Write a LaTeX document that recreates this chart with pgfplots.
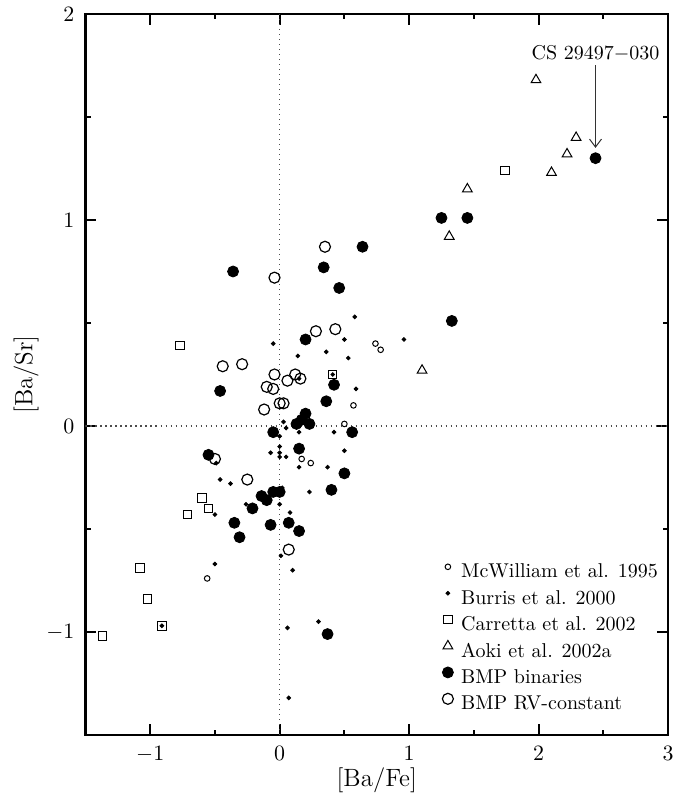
\documentclass[border=0pt]{standalone}
\usepackage{pgfplots}
\pgfplotsset{compat=1.18}
\usetikzlibrary{arrows.meta}
\pgfplotsset{
  mk/.style={only marks, legend image code/.code={\draw[##1] plot coordinates {(0pt,3.3pt)};}},
}
\begin{document}
\begin{tikzpicture}
\useasboundingbox (-42.75pt,-30pt) rectangle (302.25pt,367.5pt);
\begin{axis}[
  at={(0,0)}, anchor=south west,
  scale only axis, width=291.25pt, height=360.5pt,
  xmin=-1.5, xmax=3, ymin=-1.5, ymax=2,
  xtick={-1,0,1,2,3}, ytick={-1,0,1,2},
  minor xtick={-1.5,-0.5,0.5,1.5,2.5}, minor ytick={-1.5,-0.5,0.5,1.5},
  xtick pos=both, ytick pos=both,
  tick align=inside,
  major tick length=5.5pt, minor tick length=2.6pt,
  every tick/.style={black, line width=1pt},
  axis line style={line width=1.3pt},
  tick label style={font=\fontsize{11}{13}\selectfont},
  xticklabel style={yshift=-2pt},
  yticklabel style={xshift=-2pt},
  xlabel={[Ba/Fe]}, ylabel={[Ba/Sr]},
  label style={font=\fontsize{12.5}{14}\selectfont},
  xlabel style={yshift=4pt},
  ylabel style={yshift=-3pt},
  legend cell align=left,
  legend style={draw=none, fill=none, inner sep=0pt, row sep=0.7pt, column sep=2.9pt,
    at={(axis cs:1.254,-0.653)}, anchor=north west,
    font=\fontsize{10}{12}\selectfont,
    nodes={inner xsep=1pt, inner ysep=1.5pt, text height=7pt, text depth=2.5pt}},
]
\addplot[forget plot, black!70, line width=0.7pt, dash pattern=on 0.7pt off 1.8pt] coordinates {(0,-1.5) (0,2)};
\addplot[forget plot, black!70, line width=0.7pt, dash pattern=on 0.7pt off 1.8pt] coordinates {(-1.5,0) (3,0)};

\addplot[mk, mark=o, mark size=1.4pt, black, line width=0.5pt] coordinates {
(0.74,0.40) (0.78,0.37) (0.57,0.10) (0.50,0.01) (0.17,-0.16) (0.24,-0.18) (-0.56,-0.74)};
\addlegendentry{McWilliam et al. 1995}

\addplot[mk, mark=*, mark size=0.95pt, black] coordinates {
(0.58,0.53) (-0.05,0.40) (0.50,0.42) (0.96,0.42) (0.14,0.34) (0.36,0.36) (0.53,0.33)
(0.59,0.18) (0.41,0.25) (0.15,0.23) (0.03,0.02) (0.05,-0.01) (0.15,-0.03) (0.42,-0.03)
(0.00,-0.05) (0.00,-0.10) (-0.07,-0.13) (0.00,-0.13) (0.00,-0.15) (0.05,-0.15) (0.50,-0.12)
(0.15,-0.20) (0.37,-0.20) (-0.49,-0.18) (-0.46,-0.26) (-0.38,-0.28) (0.23,-0.32) (0.02,-0.30)
(-0.26,-0.38) (0.00,-0.38) (-0.50,-0.43) (0.08,-0.42) (0.01,-0.63) (0.10,-0.70) (-0.50,-0.67)
(-0.91,-0.97) (0.06,-0.98) (0.30,-0.95) (0.07,-1.32)};
\addlegendentry{Burris et al. 2000}

\addplot[mk, mark=square, mark size=2.1pt, black, line width=0.5pt] coordinates {
(-0.77,0.39) (0.41,0.25) (-0.60,-0.35) (-0.55,-0.40) (-0.71,-0.43) (-1.08,-0.69)
(-1.02,-0.84) (-0.91,-0.97) (-1.37,-1.02) (1.74,1.24)};
\addlegendentry{Carretta et al. 2002}

\addplot[mk, mark=triangle, mark size=2.8pt, black, line width=0.5pt] coordinates {
(1.98,1.68) (2.29,1.40) (2.22,1.32) (2.10,1.23) (1.45,1.15) (1.31,0.92) (1.10,0.27)};
\addlegendentry{Aoki et al. 2002a}

\addplot[mk, mark=*, mark size=2.75pt, black] coordinates {
(2.44,1.30) (1.25,1.01) (1.45,1.01) (0.64,0.87) (-0.36,0.75) (0.34,0.77) (0.46,0.67)
(1.33,0.51) (0.20,0.42) (-0.46,0.17) (0.42,0.20) (0.36,0.12) (0.20,0.06) (0.17,0.03)
(0.13,0.01) (0.23,0.01) (-0.05,-0.03) (0.56,-0.03) (0.15,-0.11) (-0.55,-0.14) (0.50,-0.23)
(0.40,-0.31) (-0.05,-0.32) (0.00,-0.32) (-0.14,-0.34) (-0.10,-0.36) (-0.21,-0.40)
(-0.35,-0.47) (-0.07,-0.48) (0.07,-0.47) (0.15,-0.51) (-0.31,-0.54) (0.37,-1.01)};
\addlegendentry{BMP binaries}

\addplot[mk, mark=o, mark size=2.75pt, black, line width=0.6pt] coordinates {
(0.35,0.87) (-0.04,0.72) (0.28,0.46) (0.43,0.47) (-0.44,0.29) (-0.29,0.30) (-0.04,0.25)
(0.12,0.25) (0.16,0.23) (0.06,0.22) (-0.10,0.19) (-0.05,0.18) (0.00,0.11) (0.03,0.11)
(-0.12,0.08) (-0.50,-0.16) (-0.25,-0.26) (0.07,-0.60)};
\addlegendentry{BMP RV-constant}

\draw[-{Straight Barb[length=4pt,width=6pt]}, line width=0.5pt, black!80] (axis cs:2.44,1.752) -- (axis cs:2.44,1.35);
\node[anchor=base, font=\fontsize{10}{12}\selectfont] at (axis cs:2.44,1.777) {CS 29497$-$030};
\end{axis}
\end{tikzpicture}
\end{document}
